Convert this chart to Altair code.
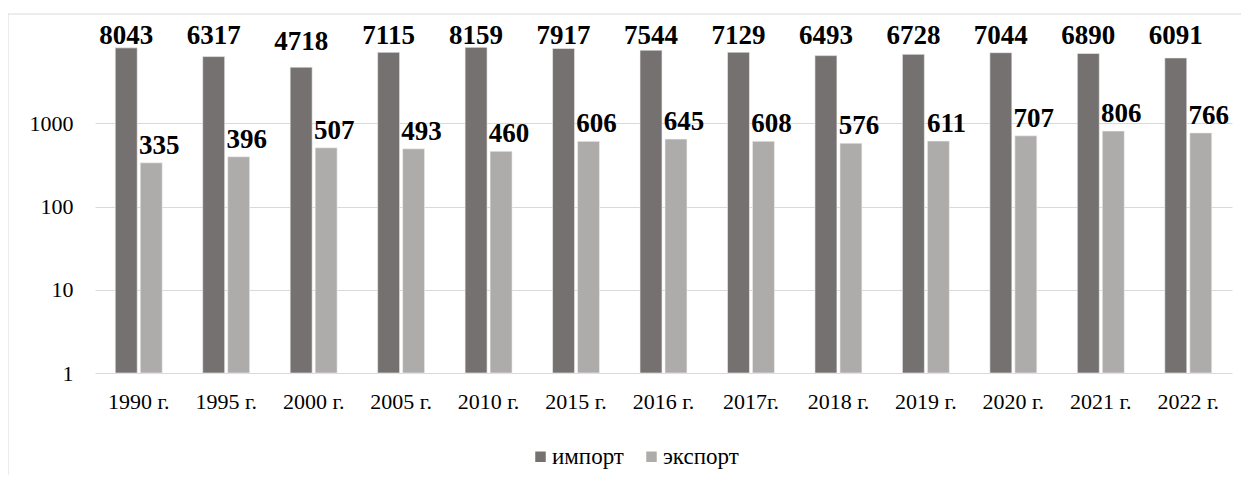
import altair as alt
import pandas as pd

years = ["1990 г.", "1995 г.", "2000 г.", "2005 г.", "2010 г.", "2015 г.", "2016 г.",
         "2017г.", "2018 г.", "2019 г.", "2020 г.", "2021 г.", "2022 г."]
imports = [8043, 6317, 4718, 7115, 8159, 7917, 7544, 7129, 6493, 6728, 7044, 6890, 6091]
exports = [335, 396, 507, 493, 460, 606, 645, 608, 576, 611, 707, 806, 766]
series = ["импорт", "экспорт"]
colors = ["#767171", "#AEABAB"]

rows = []
for i, y in enumerate(years):
    rows.append({"year": y, "series": series[0], "value": imports[i]})
    rows.append({"year": y, "series": series[1], "value": exports[i]})
df = pd.DataFrame(rows)

FONT = "Liberation Serif"
W, H = 1137, 333

yscale = alt.Scale(type="log", domain=[1, 10000])
xenc = alt.X("year:N", sort=years, title=None,
             scale=alt.Scale(paddingInner=0.463, paddingOuter=0.2315),
             axis=alt.Axis(labelAngle=0, ticks=False, domain=False, labelPadding=18,
                           labelFont=FONT, labelFontSize=22, labelColor="#000000"))
xoff = alt.XOffset("series:N", sort=series,
                   scale=alt.Scale(paddingInner=0.12, paddingOuter=0))

frame = alt.Chart(pd.DataFrame({"a": [0]})).mark_rect(
    fill="transparent", stroke="#d9d9d9", strokeWidth=1
).encode(x=alt.value(-87), x2=alt.value(1190), y=alt.value(-26), y2=alt.value(540))

bars = alt.Chart(df).mark_bar(stroke="#f2f2f2", strokeWidth=0.6).encode(
    x=xenc,
    xOffset=xoff,
    y=alt.Y("value:Q", scale=yscale, title=None,
            axis=alt.Axis(values=[1, 10, 100, 1000], ticks=False, domain=False,
                          labelPadding=22, labelFont=FONT, labelFontSize=22,
                          labelColor="#000000", gridColor="#d9d9d9", gridWidth=1.2,
                          format="d")),
    y2=alt.datum(1),
    color=alt.Color("series:N", sort=series,
                    scale=alt.Scale(domain=series, range=colors),
                    legend=alt.Legend(title=None, orient="none", direction="horizontal",
                                      legendX=434, legendY=405, symbolType="square",
                                      symbolSize=110, symbolStrokeWidth=0,
                                      labelFont=FONT, labelFontSize=23,
                                      labelColor="#000000", labelOffset=0,
                                      columnPadding=16)),
)

imp_labels = alt.Chart(df).transform_filter(
    alt.datum.series == series[0]
).transform_calculate(
    lpos="min(datum.value * 1.6, 8877)"
).mark_text(font=FONT, fontSize=27, fontWeight="bold", baseline="alphabetic",
            color="#000000").encode(
    x=xenc, xOffset=xoff,
    y=alt.Y("lpos:Q", scale=yscale),
    text=alt.Text("value:Q", format="d"),
)

exp_labels = alt.Chart(df).transform_filter(
    alt.datum.series == series[1]
).mark_text(font=FONT, fontSize=27, fontWeight="bold", baseline="alphabetic",
            dy=-9, dx=8, color="#000000").encode(
    x=xenc, xOffset=xoff,
    y=alt.Y("value:Q", scale=yscale),
    text=alt.Text("value:Q", format="d"),
)

chart = alt.layer(frame, bars, imp_labels, exp_labels).properties(
    width=W, height=H,
    autosize=alt.AutoSizeParams(type="none"),
    padding={"left": 87, "top": 32, "right": 9, "bottom": 102},
).configure_view(stroke=None).configure_axis(grid=True).configure_axisX(grid=False)

chart.save("out.html", embed_options={"renderer": "svg", "actions": False})
